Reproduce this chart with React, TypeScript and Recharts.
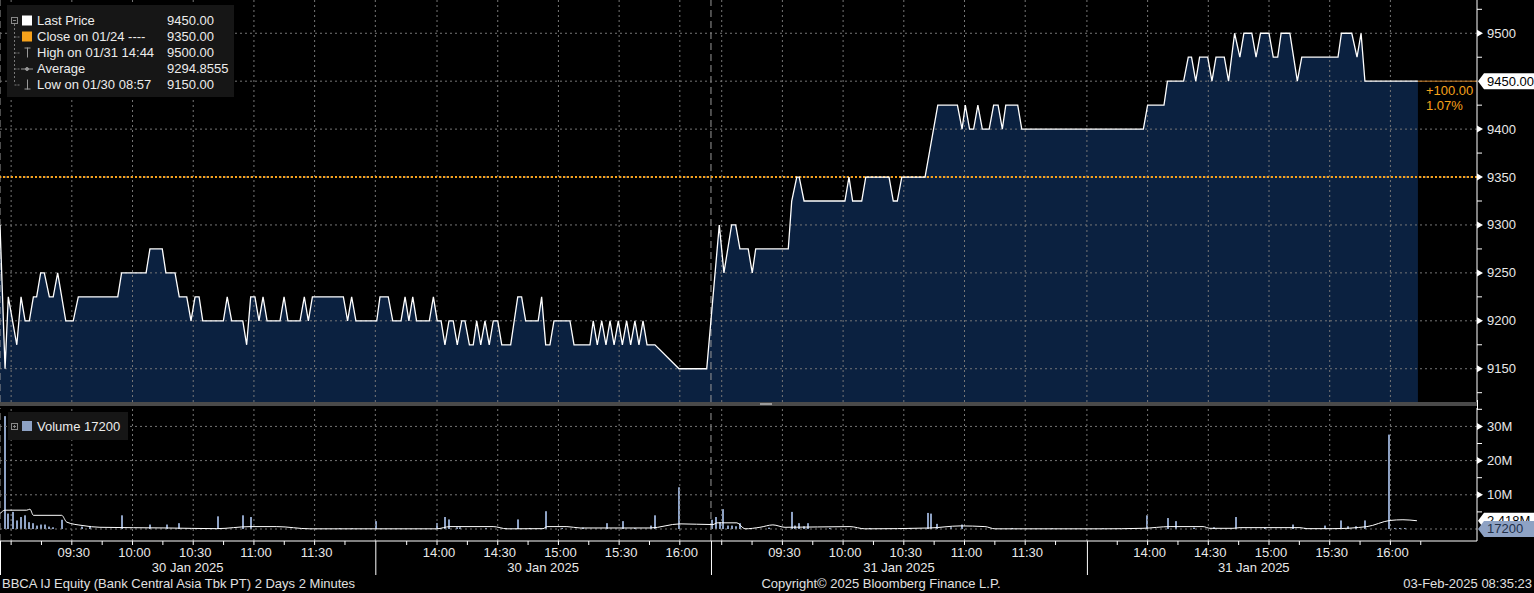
import React from 'react';
import { ComposedChart, Area, Line, Bar, XAxis, YAxis, ReferenceLine } from 'recharts';

const FONT = "'Liberation Sans', Arial, sans-serif";
const W = 1534;
const AXIS_W = 57;
const PLOT_W = W - AXIS_W;
const PRICE_H = 402;
const VOL_TOP = 408;
const VOL_H = 185;

// x is "chart minutes" on a compressed intraday axis: the four sessions sit end to end
const X_DOMAIN: [number, number] = [0, 730];
const PRICE_DOMAIN: [number, number] = [9115.3, 9534.7];
const VOL_DOMAIN: [number, number] = [-3.51e6, 35.38e6];

const amTicks = ['09:00', '09:15', '09:30', '09:45', '10:00', '10:15', '10:30', '10:45', '11:00', '11:15', '11:30', '11:45'];
const pmTicks = ['13:45', '14:00', '14:15', '14:30', '14:45', '15:00', '15:15', '15:30', '15:45', '16:00'];

const sessions = [
  { date: '30 Jan 2025', start: 0, end: 185.5, anchorTime: '09:00', anchor: 5.5, ticks: amTicks },
  { date: '30 Jan 2025', start: 185.5, end: 351.4, anchorTime: '13:30', anchor: 186, ticks: pmTicks },
  { date: '31 Jan 2025', start: 351.4, end: 537.2, anchorTime: '09:00', anchor: 356.7, ticks: amTicks },
  { date: '31 Jan 2025', start: 537.2, end: 702.2, anchorTime: '13:30', anchor: 537.2, ticks: [...pmTicks, '16:15'] },
];
const dayStarts = [0, 351.4];
const sessionBreaks = [0, 185.5, 351.4, 537.2];

// [chart minute, price]
const priceDay1: [number, number][] = [
  [0, 9300], [2.5, 9150], [4.1, 9225], [8.3, 9175], [10.4, 9225], [12.4, 9200], [14.5, 9200],
  [16.5, 9225], [18.1, 9225], [20.1, 9250], [21.9, 9250], [24.4, 9225], [26.3, 9225], [28.5, 9250],
  [32.5, 9200], [36.2, 9200], [38.7, 9225], [58.2, 9225], [60.1, 9250], [72.2, 9250], [74.1, 9275],
  [80.2, 9275], [82, 9250], [86.5, 9250], [88.6, 9225], [92.3, 9225], [94.4, 9200], [96.4, 9225],
  [98.4, 9225], [100.2, 9200], [110.4, 9200], [112.3, 9225], [114.5, 9200], [120, 9200], [121.9, 9175],
  [123.9, 9225], [126, 9225], [128, 9200], [130, 9225], [132, 9200], [138.4, 9200], [140.4, 9225],
  [142.3, 9200], [148.3, 9200], [150.4, 9225], [152.4, 9200], [154.4, 9225], [169.7, 9225],
  [171.8, 9200], [173.8, 9225], [175.9, 9200], [186.2, 9200], [187.8, 9225], [191.9, 9225],
  [194.1, 9200], [198.2, 9200], [200.2, 9225], [202.1, 9200], [204, 9225], [205.9, 9200],
  [212.2, 9200], [214.2, 9225], [216.1, 9200], [218, 9200], [219.9, 9175], [221.9, 9200], [224, 9200],
  [226, 9175], [228.2, 9200], [229.8, 9200], [232, 9175], [233.9, 9175], [235.6, 9200], [237.6, 9175],
  [239.7, 9200], [241.8, 9175], [243.8, 9200], [246, 9200], [248, 9175], [252.4, 9175], [255.9, 9225],
  [257.8, 9225], [259.8, 9200], [266, 9200], [267.7, 9225], [269.7, 9175], [271.8, 9175], [273.8, 9200],
  [281.7, 9200], [283.7, 9175], [291.6, 9175], [293.2, 9200], [295.2, 9175], [297.4, 9200], [299.5, 9175],
  [301.5, 9200], [303.5, 9175], [305.6, 9200], [307.6, 9175], [309.7, 9200], [311.7, 9175], [313.8, 9200],
  [315.8, 9175], [317.8, 9200], [319.8, 9175], [323.7, 9175], [335.6, 9150], [349.3, 9150],
];

const priceDay2: [number, number][] = [
  [355.5, 9300], [357.8, 9250], [361.6, 9300], [363.6, 9300], [365.7, 9275], [369.8, 9275], [371.8, 9250],
  [373.5, 9275], [389.6, 9275], [391.3, 9325], [393.8, 9350], [395, 9350], [397.4, 9325], [417.6, 9325],
  [419.6, 9350], [421.4, 9325], [425.9, 9325], [427.9, 9350], [439.4, 9350], [441.5, 9325], [443.5, 9325],
  [445.7, 9350], [457.2, 9350], [463.5, 9425], [473.2, 9425], [475.5, 9400], [477.1, 9425], [479.2, 9400],
  [481.2, 9400], [483.3, 9425], [485.5, 9400], [488.9, 9400], [491.1, 9425], [493.3, 9425], [495.4, 9400],
  [497.1, 9425], [503, 9425], [505, 9400], [565.1, 9400], [567.2, 9425], [575.3, 9425], [577, 9450],
  [585, 9450], [587.3, 9475], [588.9, 9475], [591, 9450], [592.9, 9475], [596.9, 9475], [599, 9450],
  [601, 9475], [605.1, 9475], [607.2, 9450], [610.2, 9500], [612.8, 9475], [614.8, 9500], [618.7, 9500],
  [620.8, 9475], [623, 9500], [627.2, 9500], [629.3, 9475], [631.5, 9475], [633.2, 9500], [637.5, 9500],
  [641.2, 9450], [643.4, 9475], [661.3, 9475], [663, 9500], [668.1, 9500], [670.7, 9475], [672.7, 9500],
  [674.6, 9450], [700.8, 9450],
];

// [chart minute, volume in millions]
const volumeBars: [number, number][] = [
  [2.5, 33], [4.1, 4.5], [6.3, 5], [8.3, 2.5], [10.2, 3.5], [12.4, 4], [14.3, 2], [16.5, 1.7], [18.4, 1],
  [20.4, 1.3], [22.4, 1.3], [24.4, 0.7], [26.3, 0.5], [30.5, 2.7], [40.4, 0.7], [44.5, 0.9], [60.1, 4],
  [74.1, 1.3], [82.4, 1.3], [88.5, 1.7], [107.9, 3.7], [120, 4], [123.9, 3.5], [168, 0.2], [173.8, 0.2],
  [185.7, 2.3], [215.8, 1.7], [219.9, 3.5], [221.9, 2.8], [225.7, 0.5], [227.3, 0.5], [240, 0.3],
  [250, 0.3], [255.9, 2.8], [262, 0.3], [269.9, 5.2], [278, 0.3], [288, 0.4], [299.8, 1.7], [307.8, 2.3],
  [314, 0.3], [321.6, 1], [323.7, 4], [335.6, 12.2], [351.7, 2.7], [353.9, 3.5], [355.9, 2], [357.5, 5.8],
  [359.8, 1], [361.8, 1], [363.8, 0.8], [365.7, 1.7], [380, 0.4], [391.3, 5], [392.9, 1], [394.9, 1.7],
  [397.4, 0.8], [399.3, 1.7], [410, 0.3], [430, 0.3], [450, 0.3], [458.8, 4.7], [460.1, 4.5], [463, 1.5],
  [470, 0.5], [475.3, 1.3], [500, 0.3], [520, 0.2], [545, 0.2], [566.7, 4], [577.1, 3.2], [581.1, 2.3],
  [590, 0.4], [600, 0.5], [610.7, 3.5], [625, 0.4], [638.9, 1.3], [645, 0.3], [654.9, 1], [662.6, 2.5],
  [666.2, 0.8], [670.2, 0.8], [674.6, 2.5], [686.6, 27.6], [689.5, 0.3], [691.9, 0.3], [694.4, 0.3],
  [700.8, 0.0172],
];

// volume moving average [chart minute, millions]
const volumeAvg: [number, number][] = [
  [0, 4.5], [2.5, 5.5], [13.2, 5.5], [14.8, 5.8], [16.5, 4], [30.5, 4], [33, 2], [41, 1], [49.4, 0.5],
  [82.4, 0.3], [107.1, 0.1], [123.6, 0.7], [136.8, 0.7], [153.2, 0.05], [197.7, 0.05], [215.8, 0.05],
  [222.4, 0.7], [243.7, 0.7], [250.6, 0.05], [268.4, 0.1], [270.4, 0.7], [280.2, 0.7], [286.7, 0.3],
  [321.3, 0.3], [336.1, 1.5], [352.4, 1.3], [354.4, 1.8], [364.2, 1.8], [368.2, 0.05], [375.6, 0.5],
  [382, 1.2], [388, 0.5], [420.1, 0.7], [427.5, 0.05], [459.6, 0.3], [474.5, 0.9], [486.8, 0.7],
  [491.8, 0.05], [543.7, 0.05], [564.9, 0.2], [578.3, 0.7], [594.6, 0.7], [598, 0.2], [609.4, 0.2],
  [612.9, 0.4], [642.5, 0.4], [646, 0.1], [658.8, 0.1], [675.6, 0.7], [687, 2.5], [693.4, 2.7],
  [700.3, 2.418],
];

const lastPrice = 9450;
const prevClose = 9350;
const highPrice = 9500;
const highAt = '01/31 14:44';
const avgPrice = 9294.8555;
const lowPrice = 9150;
const lowAt = '01/30 08:57';
const lastVolume = 17200;
const avgVolume = 2.418e6;

const GRID = '#767676';
const FILL = '#0b2140';
const ORANGE = '#f7a21b';
const VOL_COLOR = '#8ea2c4';

const priceRows = [...priceDay1, ...priceDay2].map(([m, price]) => ({ m, price }));
const volRows = volumeBars.map(([m, v]) => ({ m, vol: v * 1e6 }));
const maRows = volumeAvg.map(([m, v]) => ({ m, ma: v * 1e6 }));

const toMin = (t: string) => {
  const [h, mm] = t.split(':').map(Number);
  return h * 60 + mm;
};
const timeTicks = sessions.flatMap((s) =>
  s.ticks.map((t) => ({ m: s.anchor + toMin(t) - toMin(s.anchorTime), t }))
);
const labelByPos = new Map<number, string>();
timeTicks.forEach(({ m, t }) => {
  if ((t.endsWith(':00') || t.endsWith(':30')) && t !== '09:00') labelByPos.set(m, t);
});
const dateByPos = new Map<number, string>();
sessions.forEach((s) => dateByPos.set((s.start + s.end) / 2, s.date));
const breakSet = new Set(sessionBreaks);
const axisTicks = [...sessionBreaks, ...timeTicks.map((d) => d.m), ...dateByPos.keys()];

const gridX = [
  ...timeTicks.filter(({ t }) => t.endsWith(':00') || t.endsWith(':30')).map((d) => d.m),
  185.5,
  537.2,
];

const priceMajor = [9150, 9200, 9250, 9300, 9350, 9400, 9450, 9500];
const priceMinor = [9125, 9175, 9225, 9275, 9325, 9375, 9425, 9475, 9525];
const volMajor = [10e6, 20e6, 30e6];
const volMinor = [5e6, 15e6, 25e6, 35e6];

const change = lastPrice - prevClose;
const changePct = (change / prevClose) * 100;

const Flag = ({ x, y, text, fill, color }: any) => (
  <g>
    <path d={`M${x + 1} ${y} L${x + 7} ${y - 8} L${W} ${y - 8} L${W} ${y + 8} L${x + 7} ${y + 8} Z`} fill={fill} />
    <text x={x + 10} y={y + 4.5} fill={color} fontSize={13} fontFamily={FONT}>
      {text}
    </text>
  </g>
);

const PriceTick = (props: any) => {
  const { x, y, payload } = props;
  const v = payload.value;
  if (v === lastPrice) return <Flag x={x} y={y} text={lastPrice.toFixed(2)} fill="#fff" color="#000" />;
  if (priceMajor.includes(v)) {
    return (
      <g>
        <path d={`M${x} ${y - 3.5} L${x + 6} ${y} L${x} ${y + 3.5} Z`} fill="#fff" />
        <text x={x + 10} y={y + 4.5} fill="#e8e8e8" fontSize={13} fontFamily={FONT}>
          {v}
        </text>
      </g>
    );
  }
  return <line x1={x} x2={x + 5} y1={y} y2={y} stroke="#fff" />;
};

const VolTick = (props: any) => {
  const { x, y, payload } = props;
  const v = payload.value;
  if (v === avgVolume) return <Flag x={x} y={y} text={`${(v / 1e6).toFixed(3)}M`} fill="#fff" color="#000" />;
  if (v === lastVolume) return <Flag x={x} y={y} text={String(v)} fill={VOL_COLOR} color="#223049" />;
  if (volMajor.includes(v)) {
    return (
      <g>
        <path d={`M${x} ${y - 3.5} L${x + 6} ${y} L${x} ${y + 3.5} Z`} fill="#fff" />
        <text x={x + 10} y={y + 4.5} fill="#e8e8e8" fontSize={13} fontFamily={FONT}>
          {`${v / 1e6}M`}
        </text>
      </g>
    );
  }
  return <line x1={x} x2={x + 5} y1={y} y2={y} stroke="#fff" />;
};

const TimeTick = (props: any) => {
  const { x, y, payload } = props;
  const v = payload.value;
  if (breakSet.has(v)) return <line x1={x + 0.5} x2={x + 0.5} y1={y} y2={y + 34} stroke="#fff" />;
  const date = dateByPos.get(v);
  if (date) {
    return (
      <text x={x} y={y + 31} fill="#e8e8e8" fontSize={13} fontFamily={FONT} textAnchor="middle">
        {date}
      </text>
    );
  }
  const label = labelByPos.get(v);
  return (
    <g>
      <line x1={x} x2={x} y1={y} y2={y + 4} stroke="#fff" />
      {label ? (
        <text x={x + 2} y={y + 15.5} fill="#e8e8e8" fontSize={13} fontFamily={FONT} textAnchor="middle">
          {label}
        </text>
      ) : null}
    </g>
  );
};

// thin 2px spike centred on the slot the library gives each bar
const VolumeSpike = (props: any) => {
  const { x, y, width, height } = props;
  if (!height || height <= 0) return null;
  const cx = Math.round(x + width / 2);
  return <rect x={cx - 1} y={y} width={2} height={height} fill={VOL_COLOR} />;
};

const ChangeLabel = (props: any) => {
  const { x, y } = props.viewBox;
  return (
    <g fontFamily={FONT} fontSize={13} fill={ORANGE}>
      <text x={x + 8} y={y + 13.5}>{`+${change.toFixed(2)}`}</text>
      <text x={x + 8} y={y + 28.5}>{`${changePct.toFixed(2)}%`}</text>
    </g>
  );
};

const gridLines = (horizontal: number[]) => [
  ...gridX.map((m) => <ReferenceLine key={`gx${m}`} x={m} stroke={GRID} strokeDasharray="2 3" />),
  ...dayStarts.map((m) => <ReferenceLine key={`ds${m}`} x={m} stroke="#9a9a9a" strokeDasharray="7 4" />),
  ...horizontal.map((v) => <ReferenceLine key={`gy${v}`} y={v} stroke={GRID} strokeDasharray="2 3" />),
];

const PriceChart = () => (
  <ComposedChart width={W} height={PRICE_H} data={priceRows} margin={{ top: 0, right: 0, bottom: 0, left: 0 }}>
    <XAxis type="number" dataKey="m" domain={X_DOMAIN} hide allowDataOverflow />
    <YAxis
      orientation="right"
      width={AXIS_W}
      domain={PRICE_DOMAIN}
      allowDataOverflow
      ticks={[...priceMinor, ...priceMajor]}
      interval={0}
      tick={<PriceTick />}
      tickLine={false}
      tickSize={0}
      tickMargin={0}
      axisLine={{ stroke: '#fff' }}
    />
    <Area
      type="linear"
      dataKey="price"
      stroke="none"
      fill={FILL}
      fillOpacity={1}
      baseValue="dataMin"
      isAnimationActive={false}
      activeDot={false}
    />
    {gridLines(priceMajor)}
    <ReferenceLine y={prevClose} stroke={ORANGE} strokeWidth={2} strokeDasharray="2 2" />
    <ReferenceLine
      segment={[{ x: priceRows[priceRows.length - 1].m, y: lastPrice }, { x: X_DOMAIN[1], y: lastPrice }]}
      stroke="#d0842c"
      label={<ChangeLabel />}
    />
    <Line type="linear" dataKey="price" stroke="#fff" strokeWidth={1.3} dot={false} activeDot={false} isAnimationActive={false} />
  </ComposedChart>
);

const VolumeChart = () => (
  <ComposedChart width={W} height={VOL_H} data={volRows} margin={{ top: 0, right: 0, bottom: 0, left: 0 }}>
    <XAxis
      type="number"
      dataKey="m"
      domain={X_DOMAIN}
      allowDataOverflow
      ticks={axisTicks}
      interval={0}
      tick={<TimeTick />}
      tickLine={false}
      tickSize={0}
      tickMargin={0}
      height={52}
      axisLine={{ stroke: '#fff' }}
    />
    <YAxis
      orientation="right"
      width={AXIS_W}
      domain={VOL_DOMAIN}
      allowDataOverflow
      ticks={[...volMinor, ...volMajor, avgVolume, lastVolume]}
      interval={0}
      tick={<VolTick />}
      tickLine={false}
      tickSize={0}
      tickMargin={0}
      axisLine={{ stroke: '#fff' }}
    />
    {gridLines([0, ...volMajor])}
    <Bar dataKey="vol" fill={VOL_COLOR} barSize={2} shape={<VolumeSpike />} isAnimationActive={false} />
    <Line data={maRows} type="monotoneX" dataKey="ma" stroke="#fff" strokeWidth={1} dot={false} activeDot={false} isAnimationActive={false} />
  </ComposedChart>
);

const legendRows = [
  { icon: 'box', color: '#ffffff', label: 'Last Price', value: lastPrice.toFixed(2) },
  { icon: 'box', color: ORANGE, label: 'Close on 01/24 ----', value: prevClose.toFixed(2) },
  { icon: 'high', color: '#999', label: `High on ${highAt}`, value: highPrice.toFixed(2) },
  { icon: 'avg', color: '#999', label: 'Average', value: avgPrice.toFixed(4) },
  { icon: 'low', color: '#999', label: `Low on ${lowAt}`, value: lowPrice.toFixed(2) },
];

const LegendIcon = ({ icon, color, cy }: any) => {
  if (icon === 'box') return <rect x={22} y={cy - 5} width={10} height={10} fill={color} />;
  if (icon === 'high')
    return (
      <g stroke={color}>
        <line x1={27.5} x2={27.5} y1={cy - 5} y2={cy + 5} />
        <line x1={24.5} x2={30.5} y1={cy - 4.5} y2={cy - 4.5} />
      </g>
    );
  if (icon === 'low')
    return (
      <g stroke={color}>
        <line x1={27.5} x2={27.5} y1={cy - 5} y2={cy + 5} />
        <line x1={24.5} x2={30.5} y1={cy + 4.5} y2={cy + 4.5} />
      </g>
    );
  return (
    <g stroke={color}>
      <line x1={21} x2={33} y1={cy + 0.5} y2={cy + 0.5} />
      <circle cx={27} cy={cy + 0.5} r={1.5} fill={color} />
    </g>
  );
};

const Overlay = () => (
  <svg width={W} height={593} style={{ position: 'absolute', left: 0, top: 0, pointerEvents: 'none' }} fontFamily={FONT}>
    {/* price legend */}
    <rect x={7} y={5} width={227} height={92} fill="#161616" />
    <rect x={11.5} y={17.5} width={6} height={6} fill="none" stroke="#888" />
    <line x1={13} x2={16} y1={20.5} y2={20.5} stroke="#888" />
    <line x1={14.5} x2={14.5} y1={24} y2={84} stroke="#777" strokeDasharray="2 2" />
    {legendRows.map((r, i) => {
      const cy = 20.5 + i * 16;
      return (
        <g key={r.label}>
          {i > 0 ? <line x1={14.5} x2={20} y1={cy + 0.5} y2={cy + 0.5} stroke="#777" strokeDasharray="2 1" /> : null}
          <LegendIcon icon={r.icon} color={r.color} cy={cy} />
          <text x={37} y={cy + 4.5} fill="#ececec" fontSize={13}>
            {r.label}
          </text>
          <text x={167} y={cy + 4.5} fill="#ececec" fontSize={13}>
            {r.value}
          </text>
        </g>
      );
    })}
    {/* panel separator */}
    <rect x={0} y={402} width={PLOT_W} height={4} fill="#4a4a4a" />
    <rect x={760} y={403} width={12} height={2} fill="#9a9a9a" />
    <line x1={PLOT_W + 0.5} x2={PLOT_W + 0.5} y1={400} y2={410} stroke="#fff" />
    {/* volume legend */}
    <rect x={8} y={412} width={120} height={28} fill="#161616" />
    <rect x={11.5} y={423.5} width={6} height={6} fill="none" stroke="#888" />
    <line x1={13} x2={16} y1={426.5} y2={426.5} stroke="#888" />
    <line x1={14.5} x2={14.5} y1={425} y2={428} stroke="#888" />
    <rect x={22} y={421} width={10} height={10} fill={VOL_COLOR} />
    <text x={37} y={431} fill="#ececec" fontSize={13}>{`Volume ${lastVolume}`}</text>
    {/* footer */}
    <text x={2} y={588} fill="#e0e0e0" fontSize={13}>
      BBCA IJ Equity (Bank Central Asia Tbk PT) 2 Days 2 Minutes
    </text>
    <text x={881} y={588} fill="#e0e0e0" fontSize={13} textAnchor="middle">
      Copyright© 2025 Bloomberg Finance L.P.
    </text>
    <text x={1532} y={588} fill="#e0e0e0" fontSize={13} textAnchor="end">
      03-Feb-2025 08:35:23
    </text>
  </svg>
);

export default function App() {
  return (
    <div style={{ position: 'absolute', left: 0, top: 0, width: W, height: 593, background: '#000', overflow: 'hidden', fontFamily: FONT }}>
      <div style={{ position: 'absolute', left: 0, top: 0 }}>
        <PriceChart />
      </div>
      <div style={{ position: 'absolute', left: 0, top: VOL_TOP }}>
        <VolumeChart />
      </div>
      <Overlay />
    </div>
  );
}
